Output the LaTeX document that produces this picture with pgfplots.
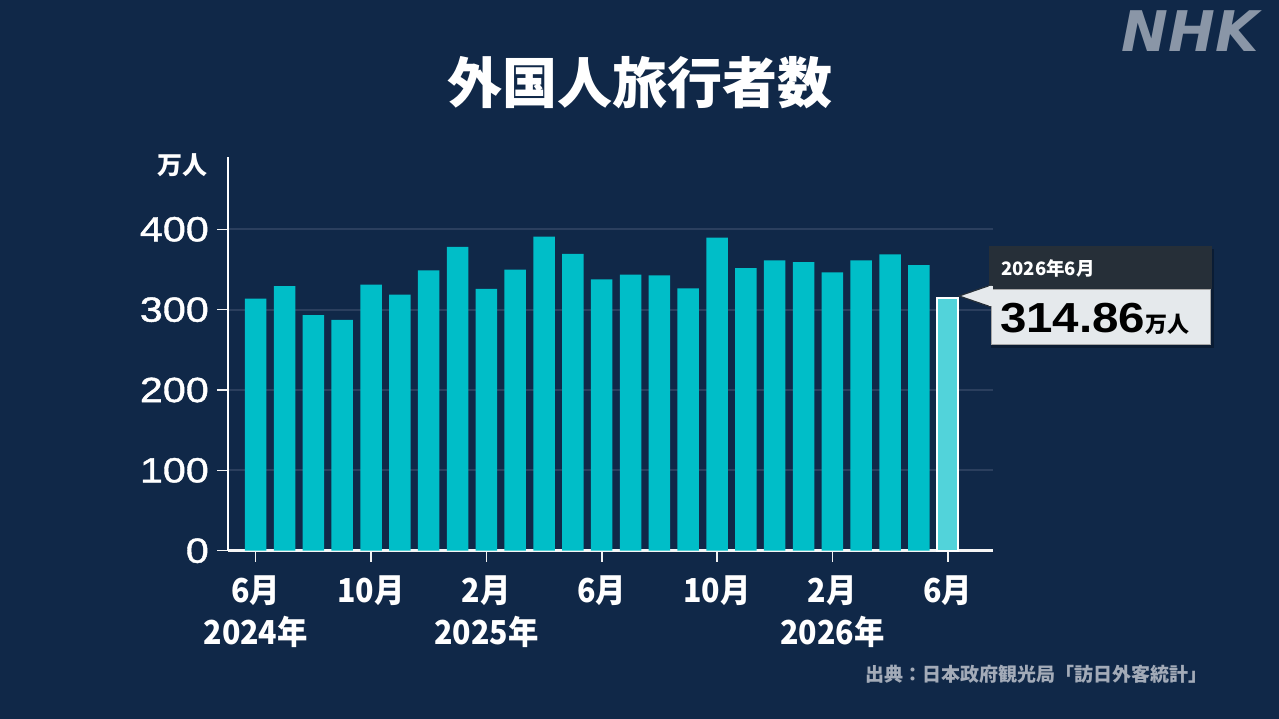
\documentclass[border=0pt]{standalone}
\usepackage{fontspec}
\usepackage{pgfplots}
\pgfplotsset{compat=1.18}
\setmainfont{Noto Sans CJK JP}
\newfontfamily\jp{Noto Sans CJK JP}
\newfontfamily\jpm{Noto Sans CJK JP}[FakeStretch=0.92]
\newfontfamily\num{Liberation Sans}[FakeStretch=1.18, FakeBold=1.2]
\newfontfamily\numb{Liberation Sans}[FakeStretch=1.13]
\newfontfamily\logo{DejaVu Sans}
\definecolor{bg}{HTML}{102848}
\definecolor{barc}{HTML}{00BEC8}
\definecolor{barhi}{HTML}{52D3DA}
\definecolor{gridc}{HTML}{2B3F5E}
\definecolor{src}{HTML}{A3ABB8}
\definecolor{nhk}{HTML}{8A96A7}
\definecolor{tiphead}{HTML}{262F38}
\definecolor{tipbody}{HTML}{E5E9EC}
\definecolor{shadowc}{HTML}{0A1C34}
\begin{document}
\begin{tikzpicture}
\fill[bg] (0,0) rectangle (1279bp,719bp);
\useasboundingbox (0,0) rectangle (1279bp,719bp);
% title
\node[text=white, inner sep=0pt] at (640bp,636bp) {\jp\bfseries\fontsize{55bp}{60bp}\selectfont 外国人旅行者数};
% unit
\node[text=white, inner sep=0pt] at (182bp,554bp) {\jp\bfseries\fontsize{25bp}{28bp}\selectfont 万人};
% NHK logo
\node[text=nhk, inner sep=0pt] at (1190bp,688bp) {\logo\bfseries\itshape\fontsize{56bp}{60bp}\selectfont NHK};
% source
\node[text=src, inner sep=0pt, anchor=east] at (1208bp,45bp) {\jp\bfseries\fontsize{19bp}{22bp}\selectfont 出典：日本政府観光局「訪日外客統計」};
\begin{axis}[
  at={(228bp,168.3bp)}, anchor=south west,
  scale only axis, width=765bp, height=393.7bp,
  xmin=-0.96, xmax=25.57, ymin=0, ymax=490,
  axis x line=bottom, axis y line=left,
  x axis line style={-, draw=white!92!gray, line width=2.5bp},
  y axis line style={-, draw=white, line width=2bp},
  ybar, bar width=21.5bp, bar shift=0pt,
  xtick={0,4,...,24},
  xticklabels={6月\\2024年, 10月, 2月\\2025年, 6月, 10月, 2月\\2026年, 6月},
  ytick={0,100,...,400},
  ymajorgrids, grid style={draw=gridc, line width=2bp},
  tick align=outside, major tick length=11bp,
  tick style={draw=white!90!gray, line width=1.6bp},
  /pgf/number format/assume math mode=true,
  yticklabel style={font=\num\fontsize{35bp}{35bp}\selectfont, text=white, inner sep=0pt, anchor=east, xshift=-8bp},
  xticklabel style={font=\jpm\bfseries\fontsize{33bp}{42bp}\selectfont, text=white, align=center, inner sep=0pt, anchor=north, yshift=-14bp},
  clip=false,
]
\addplot[fill=barc, draw=none] coordinates {
(0,313.6) (1,329.2) (2,293.3) (3,287.2) (4,331.2) (5,318.7) (6,348.9)
(7,378.2) (8,325.8) (9,349.8) (10,390.8) (11,369.3) (12,337.8) (13,343.7)
(14,342.8) (15,326.6) (16,389.6) (17,351.8) (18,361.3) (19,359.2) (20,346.3)
(21,361.3) (22,368.8) (23,355.5)};
\addplot[fill=barhi, draw=white, line width=2bp] coordinates {(24,314.86)};
\end{axis}
% tooltip
\fill[shadowc] (991bp,470bp) rectangle (1214bp,371bp);
\fill[tiphead] (989bp,473bp) rectangle (1212bp,430bp);
\fill[tipbody, draw=gray!70, line width=0.8bp] (991bp,430bp) rectangle (1210bp,375bp);
\filldraw[fill=tipbody, draw=tiphead, line width=1.2bp] (991bp,434bp) -- (959bp,423bp) -- (991bp,412bp);
\fill[tipbody] (989bp,433bp) rectangle (993bp,413bp);
\node[text=white, inner sep=0pt, anchor=west] at (1001bp,450.5bp) {\jp\bfseries\fontsize{18.5bp}{20bp}\selectfont 2026年6月};
\node[text=black, inner sep=0pt, anchor=base west] at (1000bp,386bp) {\numb\bfseries\fontsize{42bp}{44bp}\selectfont 314.86{\jp\bfseries\fontsize{22bp}{24bp}\selectfont 万人}};
\end{tikzpicture}
\end{document}
